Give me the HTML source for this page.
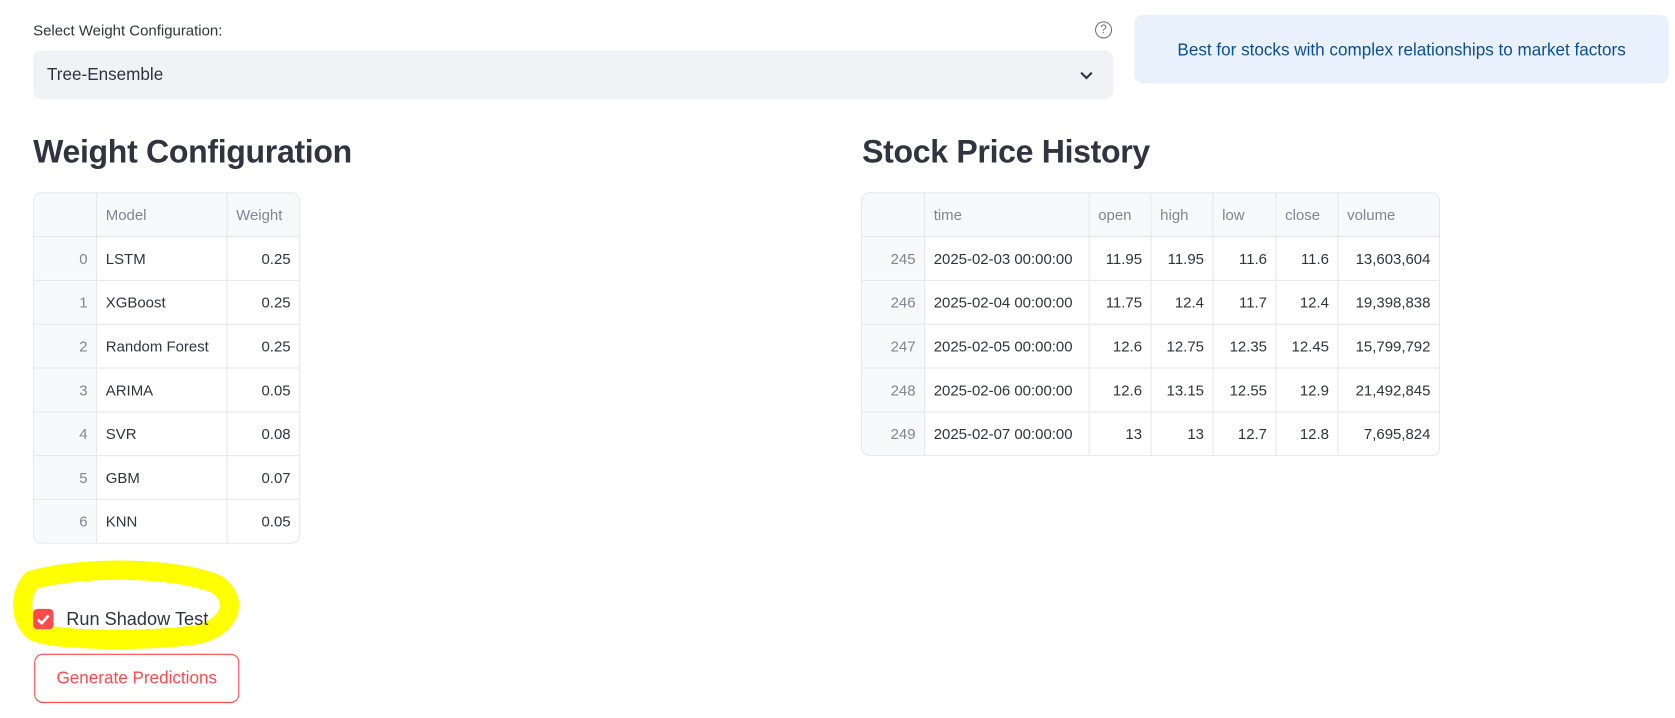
<!DOCTYPE html>
<html><head><meta charset="utf-8"><style>
body{margin:0;width:1675px;height:717px;background:#fff;font-family:"Liberation Sans",sans-serif;color:#31333f;position:relative;overflow:hidden}
#wrap{position:absolute;left:0;top:0;width:1568px;height:672px;transform:scale(1.0683);transform-origin:0 0}
.abs{position:absolute}
table{border-collapse:separate;border-spacing:0;font-size:14px;position:absolute;border:1px solid #e6e7ea;border-radius:8px;overflow:hidden}
td,th{border-right:1px solid #e6e7ea;border-bottom:1px solid #e6e7ea;height:40px;padding:0 8px;white-space:nowrap;font-weight:normal}
th{background:#f8f9fb;color:#808495;text-align:left}
tr:last-child td{border-bottom:none}
td:last-child,th:last-child{border-right:none}
td.i{background:#f8f9fb;color:#808495;text-align:right}
td.n{text-align:right}
h2{position:absolute;margin:0;font-size:30px;font-weight:bold;color:#31333f;letter-spacing:-0.3px}
</style></head><body>
<div id="wrap">
<div class="abs" style="left:31px;top:20px;font-size:14px">Select Weight Configuration:</div>
<div class="abs" style="left:1025px;top:20px;width:14px;height:14px;border:1.5px solid #6b6d7a;border-radius:50%;font-size:11px;text-align:center;line-height:14px;color:#6b6d7a">?</div>
<div class="abs" style="left:31px;top:47px;width:1011px;height:46px;background:#f0f2f6;border-radius:8px">
<span style="position:absolute;left:13px;top:15px;font-size:16px">Tree-Ensemble</span>
<svg style="position:absolute;left:980px;top:19px" width="12" height="10"><path d="M1 2 L6 7 L11 2" stroke="#31333f" stroke-width="2" fill="none"/></svg>
</div>
<div class="abs" style="left:1062px;top:14px;width:500px;height:64px;background:#e8f1fc;border-radius:8px;color:#0b4f96;font-size:16px;line-height:68px;text-align:center">Best for stocks with complex relationships to market factors</div>

<h2 style="left:31px;top:126px">Weight Configuration</h2>
<h2 style="left:807px;top:126px">Stock Price History</h2>

<table style="left:31px;top:180px;width:250px">
<tr><th style="width:42px"></th><th style="width:105px">Model</th><th>Weight</th></tr>
<tr><td class="i">0</td><td>LSTM</td><td class="n">0.25</td></tr>
<tr><td class="i">1</td><td>XGBoost</td><td class="n">0.25</td></tr>
<tr><td class="i">2</td><td>Random Forest</td><td class="n">0.25</td></tr>
<tr><td class="i">3</td><td>ARIMA</td><td class="n">0.05</td></tr>
<tr><td class="i">4</td><td>SVR</td><td class="n">0.08</td></tr>
<tr><td class="i">5</td><td>GBM</td><td class="n">0.07</td></tr>
<tr><td class="i">6</td><td>KNN</td><td class="n">0.05</td></tr>
</table>

<table style="left:806px;top:180px;width:542px">
<tr><th style="width:42px"></th><th style="width:137px">time</th><th style="width:41px">open</th><th style="width:41px">high</th><th style="width:42px">low</th><th style="width:41px">close</th><th>volume</th></tr>
<tr><td class="i">245</td><td>2025-02-03 00:00:00</td><td class="n">11.95</td><td class="n">11.95</td><td class="n">11.6</td><td class="n">11.6</td><td class="n">13,603,604</td></tr>
<tr><td class="i">246</td><td>2025-02-04 00:00:00</td><td class="n">11.75</td><td class="n">12.4</td><td class="n">11.7</td><td class="n">12.4</td><td class="n">19,398,838</td></tr>
<tr><td class="i">247</td><td>2025-02-05 00:00:00</td><td class="n">12.6</td><td class="n">12.75</td><td class="n">12.35</td><td class="n">12.45</td><td class="n">15,799,792</td></tr>
<tr><td class="i">248</td><td>2025-02-06 00:00:00</td><td class="n">12.6</td><td class="n">13.15</td><td class="n">12.55</td><td class="n">12.9</td><td class="n">21,492,845</td></tr>
<tr><td class="i">249</td><td>2025-02-07 00:00:00</td><td class="n">13</td><td class="n">13</td><td class="n">12.7</td><td class="n">12.8</td><td class="n">7,695,824</td></tr>
</table>

<svg class="abs" style="left:0;top:515px" width="240" height="100">
<path d="M30 28 C80 14 165 16 203 32 C226 48 214 76 178 80 C120 86 50 84 32 76 C18 65 18 40 30 28 Z" fill="none" stroke="#ffff00" stroke-width="18"/>
</svg>
<div class="abs" style="left:31px;top:570px;width:19px;height:19px;background:#ff4b4b;border-radius:4px">
<svg width="19" height="19"><path d="M4.5 10 L8 13.5 L14.5 6" stroke="#fff" stroke-width="2.5" fill="none"/></svg></div>
<div class="abs" style="left:62px;top:570px;font-size:17px">Run Shadow Test</div>
<div class="abs" style="left:32px;top:612px;width:190px;height:44px;border:1px solid #ff4b4b;border-radius:8px;color:#ff4b4b;font-size:16px;line-height:46px;text-align:center">Generate Predictions</div>
</div>
</body></html>
